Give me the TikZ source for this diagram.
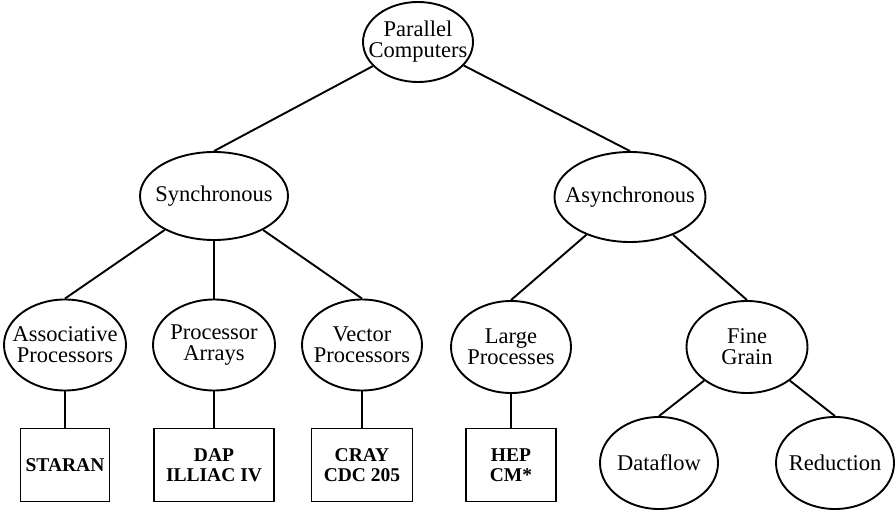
\documentclass[tikz,border=0pt]{standalone}
\usepackage{fontspec}
\setmainfont{Liberation Serif}
\usetikzlibrary{shapes.geometric}

\begin{document}
\begin{tikzpicture}[x=1bp, y=-1bp,
  every node/.style={align=center},
  oval/.style={draw, ellipse, line width=1.9bp, inner sep=-20bp,
    font=\fontsize{22.5bp}{21bp}\selectfont},
  leafbox/.style={draw, rectangle, line width=1.9bp, inner sep=0pt,
    minimum height=73bp, font=\fontsize{19.5bp}{20bp}\selectfont\bfseries},
  link/.style={line width=1.9bp}
]
\useasboundingbox (0,0) rectangle (896,510);

% top level
\node[oval, minimum width=110bp, minimum height=80bp] (root) at (418,42) {Parallel\\Computers};

% second level
\node[oval, minimum width=148bp, minimum height=88bp] (sync)  at (214,196) {Synchronous};
\node[oval, minimum width=151bp, minimum height=90bp] (async) at (630,197) {Asynchronous};

% third level
\node[oval, minimum width=122bp, minimum height=91bp] (assoc) at (65,345)  {Associative\\Processors};
\node[oval, minimum width=122bp, minimum height=91bp] (parr)  at (214,345) {Processor\\Arrays};
\node[oval, minimum width=120bp, minimum height=91bp] (vect)  at (362,345) {Vector\\Processors};
\node[oval, minimum width=120bp, minimum height=92bp] (large) at (511,347) {Large\\Processes};
\node[oval, minimum width=121bp, minimum height=92bp] (fine)  at (747,347) {Fine\\Grain};

% machines
\node[leafbox, minimum width=89bp]  (staran) at (65,465)  {STARAN};
\node[leafbox, minimum width=120bp] (dap)    at (214,465) {DAP\\ILLIAC IV};
\node[leafbox, minimum width=101bp] (cray)   at (362,465) {CRAY\\CDC 205};
\node[leafbox, minimum width=90bp]  (hep)    at (511,465) {HEP\\CM*};

% fine-grain kinds
\node[oval, minimum width=118bp, minimum height=92bp] (dataflow)  at (659,463) {Dataflow};
\node[oval, minimum width=118bp, minimum height=92bp] (reduction) at (835,463) {Reduction};

% tree edges
\draw[link] (root) -- (sync.north);
\draw[link] (root) -- (async.north);
\draw[link] (sync) -- (assoc.north);
\draw[link] (sync) -- (parr.north);
\draw[link] (sync) -- (vect.north);
\draw[link] (async) -- (large.north);
\draw[link] (async) -- (fine.north);
\draw[link] (assoc) -- (staran);
\draw[link] (parr) -- (dap);
\draw[link] (vect) -- (cray);
\draw[link] (large) -- (hep);
\draw[link] (fine) -- (dataflow.north);
\draw[link] (fine) -- (reduction.north);
\end{tikzpicture}
\end{document}
